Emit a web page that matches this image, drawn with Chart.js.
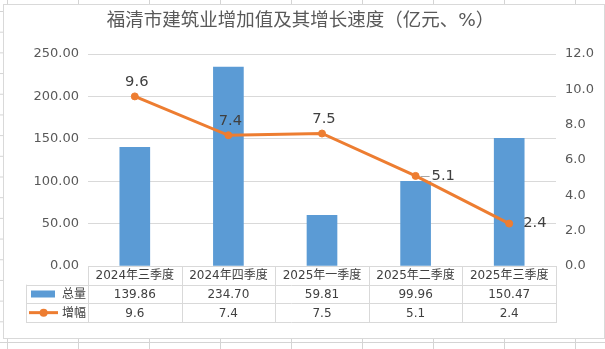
<!DOCTYPE html>
<html>
<head>
<meta charset="utf-8">
<title>福清市建筑业增加值及其增长速度</title>
<style>
    body {
        margin: 0;
        width: 605px;
        height: 349px;
        overflow: hidden;
        background-color: #fff;
        background-image: linear-gradient(to right, #d4d4d4 1px, transparent 1px),
                          linear-gradient(to bottom, #d4d4d4 1px, transparent 1px);
        background-size: 71px 20.7px;
        background-position: 7px 11px;
    }
    .frame {
        position: absolute;
        left: 3px;
        top: 4px;
        width: 600px;
        height: 333px;
        border: 1px solid #d9d9d9;
        background: #fff;
    }
    canvas { display: block; }
</style>
</head>
<body>
<div class="frame">
    <canvas id="chart" width="600" height="333"></canvas>
</div>

<script src="https://cdn.jsdelivr.net/npm/chart.js"></script>
<script>
    const chartTitle = '福清市建筑业增加值及其增长速度（亿元、%）';
    const categories = ['2024年三季度', '2024年四季度', '2025年一季度', '2025年二季度', '2025年三季度'];
    const totalName = '总量';
    const growthName = '增幅';
    const totalValues = [139.86, 234.70, 59.81, 99.96, 150.47];
    const growthValues = [9.6, 7.4, 7.5, 5.1, 2.4];
    const leftTicks = { min: 0, max: 250, step: 50 };
    const rightTicks = { min: 0, max: 12, step: 2 };

    const FONT = '"DejaVu Sans", "Noto Sans CJK SC", sans-serif';
    const BLUE = '#5B9BD5';
    const ORANGE = '#ED7D31';
    const GRID = '#d9d9d9';

    // where each growth label sits relative to its point
    const labelSide = ['above', 'above', 'above', 'right', 'right'];

    const labelPlugin = {
        id: 'lineLabels',
        afterDatasetsDraw(chart) {
            const ctx = chart.ctx;
            const points = chart.getDatasetMeta(1).data;
            ctx.save();
            ctx.font = '14.7px ' + FONT;
            ctx.fillStyle = '#404040';
            ctx.textBaseline = 'middle';
            points.forEach((p, i) => {
                const txt = growthValues[i].toFixed(1);
                if (labelSide[i] === 'above') {
                    ctx.textAlign = 'center';
                    ctx.fillText(txt, p.x + 2, p.y - 14);
                } else {
                    ctx.textAlign = 'left';
                    if (i === 3) {
                        ctx.strokeStyle = '#a6a6a6';
                        ctx.lineWidth = 1;
                        ctx.beginPath();
                        ctx.moveTo(p.x + 5, Math.round(p.y) + 0.5);
                        ctx.lineTo(p.x + 14, Math.round(p.y) + 0.5);
                        ctx.stroke();
                        ctx.fillText(txt, p.x + 16, p.y);
                    } else {
                        ctx.fillText(txt, p.x + 14, p.y);
                    }
                }
            });
            ctx.restore();
        }
    };

    const tablePlugin = {
        id: 'dataTable',
        afterDraw(chart) {
            const ctx = chart.ctx;
            const area = chart.chartArea;
            const xs = chart.scales.x;
            const n = categories.length;
            const colW = (area.right - area.left) / n;
            const rows = [area.bottom, area.bottom + 18.7, area.bottom + 37.3, area.bottom + 56];
            const legendLeft = 22;
            const px = v => Math.round(v) + 0.5;

            // title
            ctx.save();
            ctx.font = '18.5px ' + FONT;
            ctx.fillStyle = '#595959';
            ctx.textAlign = 'center';
            ctx.textBaseline = 'middle';
            ctx.fillText(chartTitle, 296.5, 16);
            ctx.restore();

            ctx.save();
            ctx.strokeStyle = GRID;
            ctx.lineWidth = 1;
            ctx.beginPath();
            // horizontal lines
            ctx.moveTo(area.left, px(rows[0])); ctx.lineTo(area.right, px(rows[0]));
            for (let r = 1; r < rows.length; r++) {
                ctx.moveTo(legendLeft, px(rows[r]));
                ctx.lineTo(area.right + 1, px(rows[r]));
            }
            // vertical lines
            for (let c = 0; c <= n; c++) {
                const x = px(area.left + c * colW);
                ctx.moveTo(x, rows[0]);
                ctx.lineTo(x, rows[3] + 1);
            }
            ctx.moveTo(px(legendLeft), rows[1]);
            ctx.lineTo(px(legendLeft), rows[3] + 1);
            ctx.stroke();

            ctx.font = '12px ' + FONT;
            ctx.fillStyle = '#404040';
            ctx.textAlign = 'center';
            ctx.textBaseline = 'middle';
            categories.forEach((cat, i) => {
                const cx = xs.getPixelForValue(i);
                ctx.fillText(cat, cx, (rows[0] + rows[1]) / 2 + 1);
                ctx.fillText(totalValues[i].toFixed(2), cx, (rows[1] + rows[2]) / 2 + 1);
                ctx.fillText(growthValues[i].toFixed(1), cx, (rows[2] + rows[3]) / 2 + 1);
            });

            // legend keys
            const y1 = (rows[1] + rows[2]) / 2;
            const y2 = (rows[2] + rows[3]) / 2;
            ctx.fillStyle = BLUE;
            ctx.fillRect(27, y1 - 3.5, 24, 7);
            ctx.strokeStyle = ORANGE;
            ctx.lineWidth = 3;
            ctx.beginPath();
            ctx.moveTo(25, y2);
            ctx.lineTo(54, y2);
            ctx.stroke();
            ctx.fillStyle = ORANGE;
            ctx.beginPath();
            ctx.arc(39.6, y2, 4, 0, Math.PI * 2);
            ctx.fill();

            ctx.fillStyle = '#404040';
            ctx.textAlign = 'left';
            ctx.fillText(totalName, 58, y1 + 1);
            ctx.fillText(growthName, 58, y2 + 1);
            ctx.restore();
        }
    };

    new Chart(document.getElementById('chart').getContext('2d'), {
        type: 'bar',
        data: {
            labels: categories,
            datasets: [{
                type: 'bar',
                label: totalName,
                data: totalValues,
                backgroundColor: BLUE,
                barThickness: 30,
                yAxisID: 'y',
                order: 2
            }, {
                type: 'line',
                label: growthName,
                data: growthValues,
                borderColor: ORANGE,
                backgroundColor: ORANGE,
                borderWidth: 3,
                pointRadius: 3.5,
                pointBorderWidth: 1,
                tension: 0,
                yAxisID: 'y1',
                order: 1
            }]
        },
        options: {
            responsive: false,
            animation: false,
            layout: { padding: { top: 49, bottom: 72, left: 0, right: 0 } },
            plugins: {
                legend: { display: false },
                title: { display: false },
                tooltip: { enabled: false }
            },
            scales: {
                x: { display: false, offset: true },
                y: {
                    position: 'left',
                    min: leftTicks.min,
                    max: leftTicks.max,
                    ticks: {
                        stepSize: leftTicks.step,
                        callback: v => v.toFixed(2),
                        color: '#595959',
                        font: { size: 13, family: FONT },
                        padding: 9
                    },
                    grid: { color: GRID, drawTicks: false },
                    border: { display: false },
                    afterFit(s) { s.width = 84; }
                },
                y1: {
                    position: 'right',
                    min: rightTicks.min,
                    max: rightTicks.max,
                    ticks: {
                        stepSize: rightTicks.step,
                        callback: v => v.toFixed(1),
                        color: '#595959',
                        font: { size: 13, family: FONT },
                        padding: 9
                    },
                    grid: { display: false, drawTicks: false },
                    border: { display: false },
                    afterFit(s) { s.width = 48; }
                }
            }
        },
        plugins: [labelPlugin, tablePlugin]
    });
</script>
</body>
</html>
